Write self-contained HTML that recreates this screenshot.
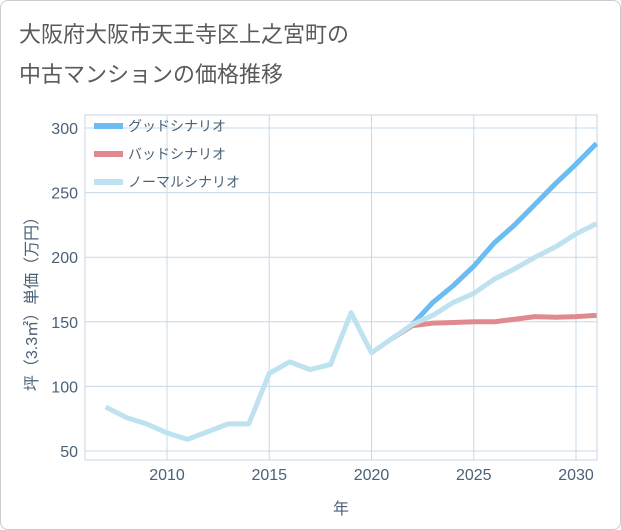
<!DOCTYPE html>
<html><head><meta charset="utf-8"><style>
body{margin:0;background:#fff;}
#card{position:absolute;left:0;top:0;width:619px;height:528px;border:1px solid #ccc;border-radius:8px;background:#fff;}
.t{position:absolute;left:18px;font:22px "Liberation Sans","Noto Sans CJK JP",sans-serif;color:#5a5a5a;}
svg text{font-family:"Liberation Sans","Noto Sans CJK JP",sans-serif;}
</style></head><body>
<div id="card">
<div class="t" style="top:16px">大阪府大阪市天王寺区上之宮町の</div>
<div class="t" style="top:56px">中古マンションの価格推移</div>
</div>
<svg id="c" width="621" height="530" style="position:absolute;left:0;top:0"></svg>
<script>
const years=[2007,2008,2009,2010,2011,2012,2013,2014,2015,2016,2017,2018,2019,2020,2021,2022,2023,2024,2025,2026,2027,2028,2029,2030,2031];
const normalVals=[84,76,71,64,59,65,71,71,110,119,113,117,157,126,137,148,155,165,172,183,191,200,208,218,226];
const goodYears=[2022,2023,2024,2025,2026,2027,2028,2029,2030,2031];
const goodVals=[148,165,178,193,211,225,241,257,272,288];
const badYears=[2021,2022,2023,2024,2025,2026,2027,2028,2029,2030,2031];
const badVals=[137,147,149,149.5,150,150,152,154,153.5,154,155];
const xTicks=[2010,2015,2020,2025,2030];
const yTicks=[50,100,150,200,250,300];
const L=85,R=597,T=115,B=460;
const X=v=>167+(v-2010)*(576-167)/20;
const Y=v=>451-(v-50)*(451-128)/250;
const svg=document.getElementById('c');const NS='http://www.w3.org/2000/svg';
function mk(tag,at,parent){const e=document.createElementNS(NS,tag);for(const k in at)e.setAttribute(k,at[k]);(parent||svg).appendChild(e);return e;}
const frame=mk('rect',{x:L,y:T,width:R-L,height:B-T,fill:'none',stroke:'#c8d4e0'});


xTicks.forEach(v=>{const g=mk('line',{x1:X(v),x2:X(v),y1:T,y2:B,stroke:'#c8d8e8'});


const t=mk('text',{x:X(v),y:480,'text-anchor':'middle','font-size':16,fill:'#4a6178'});t.textContent=v;

});
yTicks.forEach(v=>{const g=mk('line',{x1:L,x2:R,y1:Y(v),y2:Y(v),stroke:'#c8d8e8'});


const t=mk('text',{x:78,y:Y(v)+6,'text-anchor':'end','font-size':16,fill:'#4a6178'});t.textContent=v;

});
const xt=mk('text',{x:341,y:514,'text-anchor':'middle','font-size':16,fill:'#4a6178'});xt.textContent='年';


const yt=mk('text',{x:0,y:0,'text-anchor':'middle','font-size':16,fill:'#4a6178',transform:'translate(37,300) rotate(-90)'});yt.textContent='坪（3.3㎡）単価（万円）';


function line(xs,vs,color,name){const p=mk('polyline',{points:xs.map((x,i)=>X(x)+','+Y(vs[i])).join(' '),fill:'none',stroke:color,'stroke-width':5,'stroke-linejoin':'round'});

}
line(badYears,badVals,'#e08a90','bad-scenario-line');
line(goodYears,goodVals,'#6bbcf0','good-scenario-line');
line(years,normalVals,'#bfe2f0','normal-scenario-line');
const leg=[['グッドシナリオ','#6bbcf0'],['バッドシナリオ','#e08a90'],['ノーマルシナリオ','#bfe2f0']];
leg.forEach((d,i)=>{const y=126+i*28;
const s=mk('line',{x1:94,x2:123,y1:y,y2:y,stroke:d[1],'stroke-width':6});


const t=mk('text',{x:128,y:y+5,'font-size':14,fill:'#4a6178'});t.textContent=d[0];

});
</script>
</body></html>
